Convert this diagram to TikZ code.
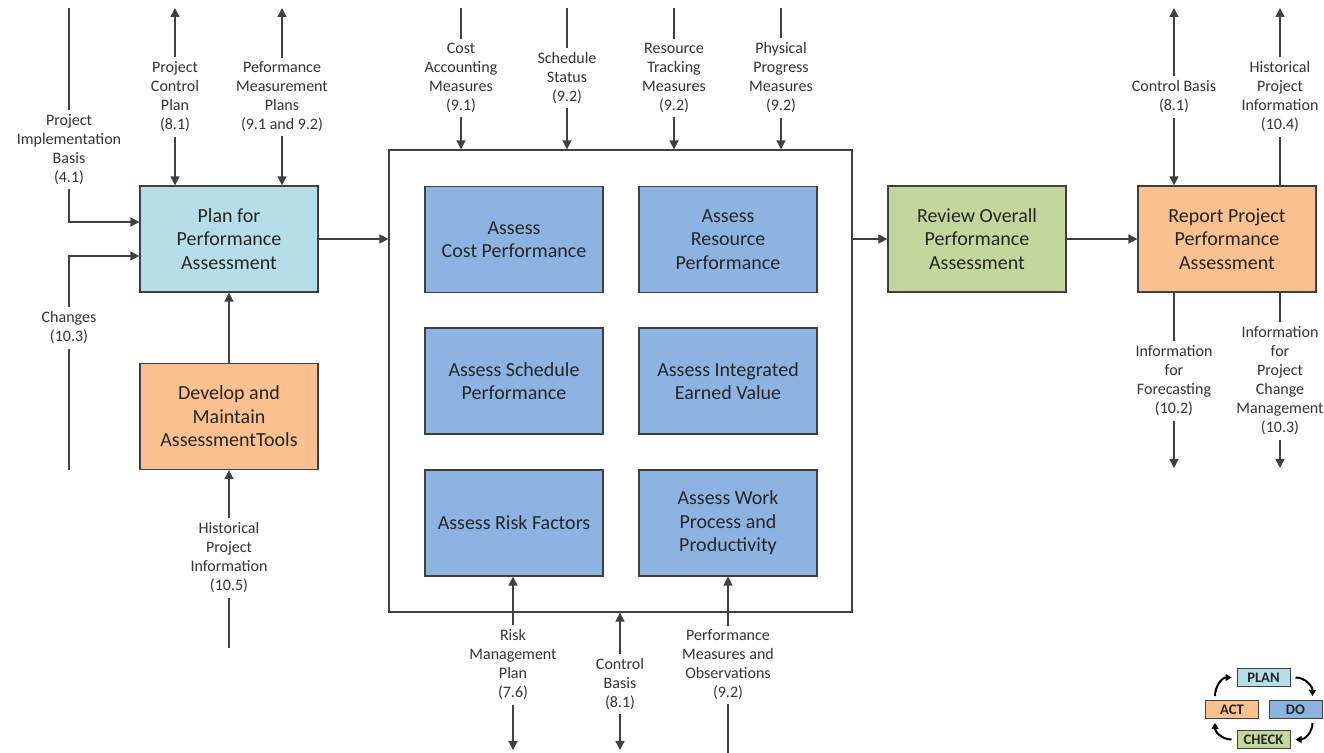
\documentclass[tikz,border=0pt]{standalone}
\usepackage{fontspec}
\setmainfont{Carlito}
\usetikzlibrary{arrows.meta,positioning,calc}
\definecolor{planblue}{HTML}{B7DDE8}
\definecolor{actorange}{HTML}{FAC090}
\definecolor{doblue}{HTML}{8DB3E2}
\definecolor{checkgreen}{HTML}{C3D69B}
\definecolor{linegray}{HTML}{404040}

\begin{document}
\begin{tikzpicture}[x=0.5pt,y=-0.5pt,
    proc/.style={draw=linegray, line width=0.6pt, minimum width=89pt, minimum height=53pt,
      inner sep=1pt, align=center, font=\fontsize{10}{11.8}\selectfont, text=black!85},
    lbl/.style={align=center, font=\fontsize{8}{9.5}\selectfont, text=black!80, inner sep=2pt},
    flow/.style={draw=linegray, line width=0.7pt},
    arr/.style={flow, -{Triangle[length=4.5pt,width=4.5pt]}},
    pdca/.style={draw=linegray, line width=0.5pt, minimum width=26.5pt, minimum height=9pt,
      inner sep=0pt, font=\fontsize{7.3}{8}\selectfont\bfseries, text=black!85},
    cyc/.style={draw=black, line width=1pt, -{Triangle[length=3pt,width=3.5pt]}}]
  \useasboundingbox (0,0) rectangle (1324,753);
  \coordinate (topEdge) at (0,8);
  \coordinate (botEdge) at (0,750);
  \coordinate (botEnd) at (0,753);
  \coordinate (outEdge) at (0,468);

  % process boxes
  \node[proc, fill=planblue] (plan) at (229,239) {Plan for\\Performance\\Assessment};
  \node[proc, fill=actorange] (dev) at (229,416.5) {Develop and\\Maintain\\AssessmentTools};
  \node[draw=linegray, line width=0.6pt, minimum width=231.5pt, minimum height=231pt] (assess) at (620.5,381) {};
  \node[proc, fill=doblue] (cost) at (514,239.5) {Assess\\Cost Performance};
  \node[proc, fill=doblue] (resource) at (728,239.5) {Assess\\Resource\\Performance};
  \node[proc, fill=doblue] (schedule) at (514,381) {Assess Schedule\\Performance};
  \node[proc, fill=doblue] (earned) at (728,381) {Assess Integrated\\Earned Value};
  \node[proc, fill=doblue] (risk) at (514,523) {Assess Risk Factors};
  \node[proc, fill=doblue] (work) at (728,523) {Assess Work\\Process and\\Productivity};
  \node[proc, fill=checkgreen] (review) at (977,239) {Review Overall\\Performance\\Assessment};
  \node[proc, fill=actorange] (report) at (1227,239) {Report Project\\Performance\\Assessment};

  % labels
  \node[lbl] (lPIB) at (69,149.5) {Project\\Implementation\\Basis\\(4.1)};
  \node[lbl] (lChg) at (69,328) {Changes\\(10.3)};
  \node[lbl] (lPCP) at (175,97) {Project\\Control\\Plan\\(8.1)};
  \node[lbl] (lPMP) at (282,97) {Peformance\\Measurement\\Plans\\(9.1 and 9.2)};
  \node[lbl] (lHist5) at (229,558) {Historical\\Project\\Information\\(10.5)};
  \node[lbl] (lCost) at (461,78) {Cost\\Accounting\\Measures\\(9.1)};
  \node[lbl] (lSched) at (567,78) {Schedule\\Status\\(9.2)};
  \node[lbl] (lRes) at (674,78) {Resource\\Tracking\\Measures\\(9.2)};
  \node[lbl] (lPhys) at (781,78) {Physical\\Progress\\Measures\\(9.2)};
  \node[lbl] (lRisk) at (513,665) {Risk\\Management\\Plan\\(7.6)};
  \node[lbl] (lCB) at (620,684) {Control\\Basis\\(8.1)};
  \node[lbl] (lPMO) at (728,665) {Performance\\Measures and\\Observations\\(9.2)};
  \node[lbl] (lCB2) at (1174,97) {Control Basis\\(8.1)};
  \node[lbl] (lHist4) at (1280,97) {Historical\\Project\\Information\\(10.4)};
  \node[lbl] (lFore) at (1174,381) {Information\\for\\Forecasting\\(10.2)};
  \node[lbl] (lPCM) at (1280,381) {Information\\for\\Project\\Change\\Management\\(10.3)};

  % connectors, plan side
  \draw[flow] (lPIB |- topEdge) -- (lPIB);
  \draw[arr] (lPIB) |- ([yshift=8.5pt]plan.west);
  \draw[flow] (lChg |- dev.south) -- (lChg);
  \draw[arr] (lChg) |- ([yshift=-8.5pt]plan.west);
  \draw[arr] (lPCP) -- (lPCP |- topEdge);
  \draw[arr] (lPCP) -- (lPCP |- plan.north);
  \draw[arr] (lPMP) -- (lPMP |- topEdge);
  \draw[arr] (lPMP) -- (lPMP |- plan.north);
  \draw[flow] (lHist5 |- 0,648) -- (lHist5);
  \draw[arr] (lHist5) -- (dev);
  \draw[arr] (dev) -- (plan);
  \draw[arr] (plan) -- (plan -| assess.west);

  % connectors, assessment
  \foreach \n in {lCost,lSched,lRes,lPhys} {
    \draw[flow] (\n |- topEdge) -- (\n);
    \draw[arr] (\n) -- (\n |- assess.north);
  }
  \draw[arr] (lRisk) -- (lRisk |- risk.south);
  \draw[arr] (lRisk) -- (lRisk |- botEdge);
  \draw[arr] (lCB) -- (lCB |- assess.south);
  \draw[arr] (lCB) -- (lCB |- botEdge);
  \draw[flow] (lPMO |- botEnd) -- (lPMO);
  \draw[arr] (lPMO) -- (lPMO |- work.south);
  \draw[arr] (assess.east |- review.west) -- (review);
  \draw[arr] (review) -- (report);

  % connectors, report side
  \draw[arr] (lCB2) -- (lCB2 |- topEdge);
  \draw[arr] (lCB2) -- (lCB2 |- report.north);
  \draw[flow] (lHist4 |- report.north) -- (lHist4);
  \draw[arr] (lHist4) -- (lHist4 |- topEdge);
  \draw[flow] (lFore |- report.south) -- (lFore);
  \draw[arr] (lFore) -- (lFore |- outEdge);
  \draw[flow] (lPCM |- report.south) -- (lPCM);
  \draw[arr] (lPCM) -- (lPCM |- outEdge);

  % PDCA cycle
  \node[pdca, fill=planblue] (pPlan) at (1263.5,677.5) {PLAN};
  \node[pdca, fill=doblue] (pDo) at (1295.5,709.5) {DO};
  \node[pdca, fill=actorange] (pAct) at (1232,709.5) {ACT};
  \node[pdca, fill=checkgreen] (pCheck) at (1263.5,739.5) {CHECK};
  \draw[cyc] ([xshift=2.5pt]pPlan.east) to[out=0,in=90] ([xshift=8.5pt,yshift=2pt]pDo.north);
  \draw[cyc] ([xshift=8.5pt,yshift=-2pt]pDo.south) to[out=-90,in=0] ([xshift=2.5pt]pCheck.east);
  \draw[cyc] ([xshift=-2.5pt]pCheck.west) to[out=180,in=-90] ([xshift=-8.5pt,yshift=-2pt]pAct.south);
  \draw[cyc] ([xshift=-8.5pt,yshift=2pt]pAct.north) to[out=90,in=180] ([xshift=-2.5pt]pPlan.west);
\end{tikzpicture}
\end{document}
